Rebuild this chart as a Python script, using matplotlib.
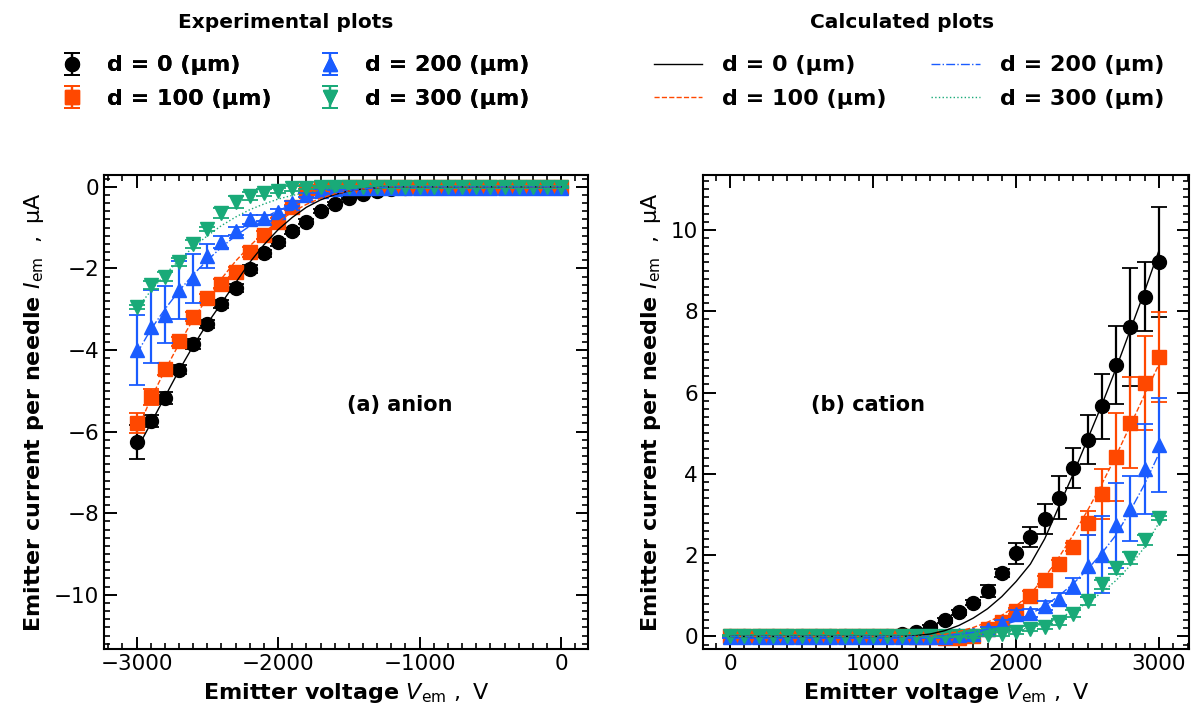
import numpy as np
import matplotlib
matplotlib.use('Agg')
import matplotlib.pyplot as plt
from matplotlib.ticker import MultipleLocator

# emitter voltage (V)
v_anion = [-3000, -2900, -2800, -2700, -2600, -2500, -2400, -2300, -2200, -2100, -2000,
           -1900, -1800, -1700, -1600, -1500, -1400, -1300, -1200, -1100, -1000,
           -900, -800, -700, -600, -500, -400, -300, -200, -100, 0]
v_cation = [0, 100, 200, 300, 400, 500, 600, 700, 800, 900, 1000,
            1100, 1200, 1300, 1400, 1500, 1600, 1700, 1800, 1900, 2000,
            2100, 2200, 2300, 2400, 2500, 2600, 2700, 2800, 2900, 3000]

labels = ['d = 0 (μm)', 'd = 100 (μm)', 'd = 200 (μm)', 'd = 300 (μm)']
colors = ['black', '#ff4800', '#1a5cff', '#19aa78']
markers = ['o', 's', '^', 'v']
styles = ['-', '--', '-.', ':']

# (a) anion, experimental
an_d0 = [-6.26, -5.74, -5.18, -4.48, -3.85, -3.37, -2.88, -2.47, -2.02, -1.63, -1.36,
         -1.08, -0.85, -0.60, -0.41, -0.27, -0.17, -0.11, -0.06, -0.03, -0.01,
         0, 0, 0, 0, 0, 0, 0, 0, 0, 0]
an_d100 = [-5.79, -5.15, -4.46, -3.79, -3.18, -2.73, -2.37, -2.08, -1.60, -1.18, -0.85,
           -0.50, -0.10, -0.03, -0.02, -0.01, 0, 0, 0, 0, 0,
           0, 0, 0, 0, 0, 0, 0, 0, 0, 0]
an_d200 = [-4.00, -3.43, -3.13, -2.53, -2.24, -1.70, -1.36, -1.09, -0.80, -0.76, -0.62,
           -0.40, -0.20, -0.10, -0.05, -0.03, -0.02, -0.02, -0.02, -0.02, -0.02,
           -0.02, -0.02, -0.02, -0.02, -0.02, -0.02, -0.02, -0.02, -0.02, -0.02]
an_d300 = [-2.94, -2.41, -2.20, -1.84, -1.41, -1.04, -0.65, -0.38, -0.22, -0.14, -0.10,
           -0.04, -0.02, 0, 0, 0, 0, 0, 0, 0, 0,
           0, 0, 0, 0, 0, 0, 0, 0, 0, 0]
an_err_d0 = [0.42, 0.15, 0.15, 0.12, 0.12, 0.1, 0.1, 0.1, 0.1, 0.08, 0.08,
             0.08, 0.06, 0.05, 0.04, 0.03, 0.03, 0.02, 0.02, 0.02, 0.02,
             0.02, 0.02, 0.02, 0.02, 0.02, 0.02, 0.02, 0.02, 0.02, 0.02]
an_err_d100 = [0.25, 0.2, 0.15, 0.12, 0.1, 0.1, 0.1, 0.12, 0.12, 0.1, 0.08,
               0.06, 0.05, 0.04, 0.03, 0.02, 0.02, 0.02, 0.02, 0.02, 0.02,
               0.02, 0.02, 0.02, 0.02, 0.02, 0.02, 0.02, 0.02, 0.02, 0.02]
an_err_d200 = [0.85, 0.9, 0.7, 0.7, 0.6, 0.3, 0.15, 0.1, 0.1, 0.08, 0.08,
               0.06, 0.05, 0.04, 0.03, 0.02, 0.02, 0.02, 0.02, 0.02, 0.02,
               0.02, 0.02, 0.02, 0.02, 0.02, 0.02, 0.02, 0.02, 0.02, 0.02]
an_err_d300 = [0.05, 0.1, 0.12, 0.1, 0.1, 0.05, 0.12, 0.15, 0.1, 0.08, 0.06,
               0.05, 0.04, 0.03, 0.02, 0.02, 0.02, 0.02, 0.02, 0.02, 0.02,
               0.02, 0.02, 0.02, 0.02, 0.02, 0.02, 0.02, 0.02, 0.02, 0.02]

# (a) anion, calculated
an_calc_d0 = [-6.45, -5.80, -5.15, -4.50, -3.90, -3.35, -2.85, -2.35, -1.85, -1.42, -1.05,
              -0.75, -0.50, -0.32, -0.19, -0.10, -0.05, -0.02, 0, 0, 0,
              0, 0, 0, 0, 0, 0, 0, 0, 0, 0]
an_calc_d100 = [-6.00, -5.20, -4.50, -3.85, -3.25, -2.72, -2.25, -1.82, -1.45, -1.12, -0.85,
                -0.62, -0.43, -0.28, -0.17, -0.10, -0.05, -0.02, 0, 0, 0,
                0, 0, 0, 0, 0, 0, 0, 0, 0, 0]
an_calc_d200 = [-4.10, -3.50, -3.00, -2.55, -2.15, -1.80, -1.48, -1.20, -0.96, -0.76, -0.58,
                -0.44, -0.32, -0.22, -0.15, -0.09, -0.05, -0.02, 0, 0, 0,
                0, 0, 0, 0, 0, 0, 0, 0, 0, 0]
an_calc_d300 = [-3.00, -2.55, -2.15, -1.80, -1.48, -1.20, -0.95, -0.74, -0.56, -0.42, -0.30,
                -0.21, -0.14, -0.09, -0.05, -0.02, 0, 0, 0, 0, 0,
                0, 0, 0, 0, 0, 0, 0, 0, 0, 0]

# (b) cation, experimental
ca_d0 = [0, 0, 0, 0, 0, 0, 0, 0, 0, 0, 0.01,
         0.02, 0.06, 0.12, 0.23, 0.40, 0.59, 0.83, 1.12, 1.55, 2.04,
         2.45, 2.89, 3.41, 4.14, 4.84, 5.66, 6.68, 7.62, 8.36, 9.21]
ca_d100 = [0, 0, 0, 0, 0, 0, 0, 0, 0, 0, 0,
           0, 0, -0.01, -0.02, -0.05, -0.04, 0.0, 0.18, 0.35, 0.62,
           1.00, 1.39, 1.78, 2.20, 2.79, 3.51, 4.41, 5.26, 6.23, 6.87]
ca_d200 = [-0.02, -0.02, -0.02, -0.02, -0.02, -0.02, -0.02, -0.02, -0.02, -0.02, -0.02,
           -0.02, -0.02, -0.02, -0.02, -0.02, 0.03, 0.06, 0.18, 0.32, 0.54,
           0.58, 0.76, 0.92, 1.24, 1.73, 2.01, 2.73, 3.14, 4.12, 4.71]
ca_d300 = [0.02, 0.02, 0.02, 0.02, 0.02, 0.02, 0.02, 0.02, 0.02, 0.02, 0.02,
           0.02, 0.02, 0.02, 0.01, 0.01, 0.0, 0.0, 0.04, 0.05, 0.11,
           0.19, 0.24, 0.35, 0.56, 0.87, 1.28, 1.69, 1.93, 2.38, 2.92]
ca_err_d0 = [0.02, 0.02, 0.02, 0.02, 0.02, 0.02, 0.02, 0.02, 0.02, 0.02, 0.02,
             0.02, 0.03, 0.04, 0.05, 0.06, 0.06, 0.06, 0.15, 0.1, 0.27,
             0.25, 0.36, 0.53, 0.5, 0.6, 0.8, 0.96, 1.45, 0.85, 1.35]
ca_err_d100 = [0.02, 0.02, 0.02, 0.02, 0.02, 0.02, 0.02, 0.02, 0.02, 0.02, 0.02,
               0.02, 0.02, 0.02, 0.03, 0.03, 0.03, 0.04, 0.06, 0.08, 0.08,
               0.12, 0.1, 0.1, 0.1, 0.3, 0.62, 1.08, 1.12, 1.16, 1.1]
ca_err_d200 = [0.02, 0.02, 0.02, 0.02, 0.02, 0.02, 0.02, 0.02, 0.02, 0.02, 0.02,
               0.02, 0.02, 0.02, 0.02, 0.03, 0.04, 0.05, 0.06, 0.08, 0.12,
               0.1, 0.1, 0.15, 0.2, 0.76, 0.95, 1.05, 0.8, 1.1, 1.15]
ca_err_d300 = [0.02, 0.02, 0.02, 0.02, 0.02, 0.02, 0.02, 0.02, 0.02, 0.02, 0.02,
               0.02, 0.02, 0.02, 0.02, 0.02, 0.02, 0.03, 0.04, 0.05, 0.05,
               0.06, 0.06, 0.08, 0.08, 0.1, 0.12, 0.15, 0.15, 0.12, 0.05]

# (b) cation, calculated
ca_calc_d0 = [0, 0, 0, 0, 0, 0, 0, 0, 0, 0, 0,
              0, 0, 0.02, 0.06, 0.14, 0.27, 0.45, 0.68, 0.98, 1.35,
              1.78, 2.40, 3.20, 4.00, 4.85, 5.70, 6.60, 7.55, 8.50, 9.50]
ca_calc_d100 = [0, 0, 0, 0, 0, 0, 0, 0, 0, 0, 0,
                0, 0, 0, 0.01, 0.05, 0.12, 0.22, 0.35, 0.52, 0.75,
                1.05, 1.45, 1.95, 2.50, 3.10, 3.75, 4.45, 5.20, 5.95, 6.70]
ca_calc_d200 = [0, 0, 0, 0, 0, 0, 0, 0, 0, 0, 0,
                0, 0, 0, 0, 0.02, 0.05, 0.10, 0.18, 0.27, 0.38,
                0.55, 0.75, 1.00, 1.30, 1.65, 2.05, 2.50, 3.10, 3.75, 4.50]
ca_calc_d300 = [0, 0, 0, 0, 0, 0, 0, 0, 0, 0, 0,
                0, 0, 0, 0, 0, 0, 0.01, 0.04, 0.08, 0.14,
                0.22, 0.32, 0.45, 0.62, 0.83, 1.08, 1.38, 1.75, 2.20, 2.80]

plt.rcParams['font.family'] = 'DejaVu Sans'
plt.rcParams['mathtext.fontset'] = 'dejavusans'

fig = plt.figure(figsize=(11.93, 7.08), dpi=100)
ax1 = fig.add_axes([0.0872, 0.0833, 0.4057, 0.6695])
ax2 = fig.add_axes([0.5893, 0.0833, 0.4074, 0.6695])

exp_sets = [
    (ax1, v_anion, [an_d0, an_d100, an_d200, an_d300], [an_err_d0, an_err_d100, an_err_d200, an_err_d300],
     [an_calc_d0, an_calc_d100, an_calc_d200, an_calc_d300]),
    (ax2, v_cation, [ca_d0, ca_d100, ca_d200, ca_d300], [ca_err_d0, ca_err_d100, ca_err_d200, ca_err_d300],
     [ca_calc_d0, ca_calc_d100, ca_calc_d200, ca_calc_d300]),
]

exp_handles = []
calc_handles = []
for ax, v, ys, errs, calcs in exp_sets:
    eh = []
    ch = []
    for i in range(4):
        h = ax.errorbar(v, ys[i], yerr=errs[i], fmt=markers[i], color=colors[i], ms=10,
                        capsize=5.5, elinewidth=1.6, capthick=1.3, zorder=2 + i)
        eh.append(h)
    for i in range(4):
        l, = ax.plot(v, calcs[i], linestyle=styles[i], color=colors[i], lw=1.0, zorder=10)
        ch.append(l)
    exp_handles = eh
    calc_handles = ch

ylab = r'Emitter current per needle $I_{\rm em}\ \ ,\ \mathrm{\mu A}$'
xlab = r'Emitter voltage $V_{\rm em}\ ,\ \mathrm{V}$'
for ax in (ax1, ax2):
    ax.set_xlabel(xlab, fontsize=16, fontweight='bold', labelpad=5)
    ax.set_ylabel(ylab, fontsize=16, fontweight='bold', labelpad=6)
    ax.xaxis.set_major_locator(MultipleLocator(1000))
    ax.xaxis.set_minor_locator(MultipleLocator(100))
    ax.yaxis.set_major_locator(MultipleLocator(2))
    ax.yaxis.set_minor_locator(MultipleLocator(0.2))
    ax.tick_params(which='both', direction='in', top=True, right=True, labelsize=15.5, width=1.4)
    ax.tick_params(which='major', length=9)
    ax.tick_params(which='minor', length=4.5, width=1.2)
    for s in ax.spines.values():
        s.set_linewidth(1.5)

ax1.set_xlim(-3230, 190)
ax1.set_ylim(-11.33, 0.29)
ax2.set_xlim(-190, 3210)
ax2.set_ylim(-0.31, 11.35)

ax1.text(0.612, 0.515, '(a) anion', transform=ax1.transAxes, fontsize=15,
         fontweight='bold', ha='center', va='center')
ax2.text(0.34, 0.515, '(b) cation', transform=ax2.transAxes, fontsize=15,
         fontweight='bold', ha='center', va='center')

# legend titles placed as separate texts
fig.text(0.2395, 1 - 23 / 708, 'Experimental plots', fontsize=14.5, fontweight='bold',
         ha='center', va='center')
fig.text(0.7565, 1 - 23 / 708, 'Calculated plots', fontsize=14.5, fontweight='bold',
         ha='center', va='center')

leg_font = {'weight': 'bold', 'size': 16}
leg1 = fig.legend(exp_handles, labels, ncol=2, loc='upper center', bbox_to_anchor=(0.245, 0.95),
                  frameon=False, prop=leg_font, columnspacing=1.9, handletextpad=0.8,
                  labelspacing=0.6, handlelength=1.5)
leg2 = fig.legend(calc_handles, labels, ncol=2, loc='upper center', bbox_to_anchor=(0.762, 0.95),
                  frameon=False, prop=leg_font, columnspacing=2.0, handletextpad=0.9,
                  labelspacing=0.6, handlelength=2.2)
fig.add_artist(leg1)

fig.savefig('out.png', dpi=100)
